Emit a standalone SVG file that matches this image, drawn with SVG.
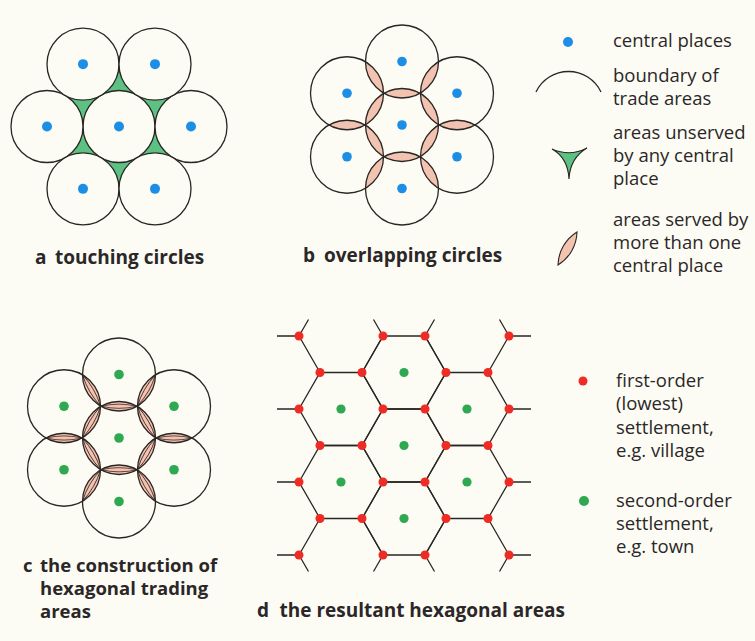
<svg xmlns="http://www.w3.org/2000/svg" xmlns:xlink="http://www.w3.org/1999/xlink" width="755" height="641" viewBox="0 0 755 641">
<style>
.bg{fill:#fcfcf4}
.ring{fill:none;stroke:#2a2623;stroke-width:1.3}
.ringf{fill:#fcfcf4;stroke:#2a2623;stroke-width:1.3}
.blue{fill:#1c8ee6}
.gdot{fill:#2fa852}
.rdot{fill:#ee2b25}
.pink{fill:#f3c3b2;stroke:none}
.inner{fill:none;stroke:#3a2a24;stroke-width:0.8}
.edge{fill:none;stroke:#2a2623;stroke-width:1.3}
.green{fill:#5ec184}
.lt{font-family:"Open Sans","Noto Sans",sans-serif;font-size:18.5px;fill:#2b2728}
.lb{font-family:"Open Sans","Noto Sans",sans-serif;font-size:19px;font-weight:700;fill:#2b2728}
.lc{font-size:18.5px}
</style>
<defs>
<path id="lens" d="M0,-18 A36.5,36.5 0 0 1 0,18 A36.5,36.5 0 0 1 0,-18 Z"/>
<path id="lensIn" d="M0,-18 A80,80 0 0 1 0,18 M0,-18 A80,80 0 0 0 0,18"/>
<path id="hex" d="M-42,0 L-21,-36.5 L21,-36.5 L42,0 L21,36.5 L-21,36.5 Z"/>
</defs>
<rect class="bg" x="0" y="0" width="755" height="641"/>

<g id="panel-a" transform="translate(119,126.5)">
<polygon class="green" points="-72,0 -36,-62.35 36,-62.35 72,0 36,62.35 -36,62.35"/>
<circle class="ringf" cx="0" cy="0" r="36"/>
<circle class="ringf" cx="-72" cy="0" r="36"/>
<circle class="ringf" cx="72" cy="0" r="36"/>
<circle class="ringf" cx="-36" cy="-62.35" r="36"/>
<circle class="ringf" cx="36" cy="-62.35" r="36"/>
<circle class="ringf" cx="-36" cy="62.35" r="36"/>
<circle class="ringf" cx="36" cy="62.35" r="36"/>
<circle class="blue" cx="0" cy="0" r="5"/>
<circle class="blue" cx="-72" cy="0" r="5"/>
<circle class="blue" cx="72" cy="0" r="5"/>
<circle class="blue" cx="-36" cy="-62.35" r="5"/>
<circle class="blue" cx="36" cy="-62.35" r="5"/>
<circle class="blue" cx="-36" cy="62.35" r="5"/>
<circle class="blue" cx="36" cy="62.35" r="5"/>
</g>

<g id="panel-b" transform="translate(402,125)">
<g class="pink">
<use xlink:href="#lens" transform="translate(0,-31.75) rotate(90)"/>
<use xlink:href="#lens" transform="translate(0,31.75) rotate(90)"/>
<use xlink:href="#lens" transform="translate(-27.5,-15.875) rotate(30)"/>
<use xlink:href="#lens" transform="translate(27.5,15.875) rotate(30)"/>
<use xlink:href="#lens" transform="translate(27.5,-15.875) rotate(-30)"/>
<use xlink:href="#lens" transform="translate(-27.5,15.875) rotate(-30)"/>
<use xlink:href="#lens" transform="translate(-27.5,-47.625) rotate(-30)"/>
<use xlink:href="#lens" transform="translate(27.5,-47.625) rotate(30)"/>
<use xlink:href="#lens" transform="translate(-55,0) rotate(90)"/>
<use xlink:href="#lens" transform="translate(55,0) rotate(90)"/>
<use xlink:href="#lens" transform="translate(-27.5,47.625) rotate(30)"/>
<use xlink:href="#lens" transform="translate(27.5,47.625) rotate(-30)"/>
</g>
<circle class="ring" cx="0" cy="0" r="36.5"/>
<circle class="ring" cx="0" cy="-63.5" r="36.5"/>
<circle class="ring" cx="0" cy="63.5" r="36.5"/>
<circle class="ring" cx="-55" cy="-31.75" r="36.5"/>
<circle class="ring" cx="55" cy="-31.75" r="36.5"/>
<circle class="ring" cx="-55" cy="31.75" r="36.5"/>
<circle class="ring" cx="55" cy="31.75" r="36.5"/>
<circle class="blue" cx="0" cy="0" r="4.8"/>
<circle class="blue" cx="0" cy="-63.5" r="4.8"/>
<circle class="blue" cx="0" cy="63.5" r="4.8"/>
<circle class="blue" cx="-55" cy="-31.75" r="4.8"/>
<circle class="blue" cx="55" cy="-31.75" r="4.8"/>
<circle class="blue" cx="-55" cy="31.75" r="4.8"/>
<circle class="blue" cx="55" cy="31.75" r="4.8"/>
</g>

<g id="panel-c" transform="translate(119,438)">
<g class="pink">
<use xlink:href="#lens" transform="translate(0,-31.75) rotate(90)"/>
<use xlink:href="#lens" transform="translate(0,31.75) rotate(90)"/>
<use xlink:href="#lens" transform="translate(-27.5,-15.875) rotate(30)"/>
<use xlink:href="#lens" transform="translate(27.5,15.875) rotate(30)"/>
<use xlink:href="#lens" transform="translate(27.5,-15.875) rotate(-30)"/>
<use xlink:href="#lens" transform="translate(-27.5,15.875) rotate(-30)"/>
<use xlink:href="#lens" transform="translate(-27.5,-47.625) rotate(-30)"/>
<use xlink:href="#lens" transform="translate(27.5,-47.625) rotate(30)"/>
<use xlink:href="#lens" transform="translate(-55,0) rotate(90)"/>
<use xlink:href="#lens" transform="translate(55,0) rotate(90)"/>
<use xlink:href="#lens" transform="translate(-27.5,47.625) rotate(30)"/>
<use xlink:href="#lens" transform="translate(27.5,47.625) rotate(-30)"/>
</g>
<g class="inner">
<use xlink:href="#lensIn" transform="translate(0,-31.75) rotate(90)"/>
<use xlink:href="#lensIn" transform="translate(0,31.75) rotate(90)"/>
<use xlink:href="#lensIn" transform="translate(-27.5,-15.875) rotate(30)"/>
<use xlink:href="#lensIn" transform="translate(27.5,15.875) rotate(30)"/>
<use xlink:href="#lensIn" transform="translate(27.5,-15.875) rotate(-30)"/>
<use xlink:href="#lensIn" transform="translate(-27.5,15.875) rotate(-30)"/>
<use xlink:href="#lensIn" transform="translate(-27.5,-47.625) rotate(-30)"/>
<use xlink:href="#lensIn" transform="translate(27.5,-47.625) rotate(30)"/>
<use xlink:href="#lensIn" transform="translate(-55,0) rotate(90)"/>
<use xlink:href="#lensIn" transform="translate(55,0) rotate(90)"/>
<use xlink:href="#lensIn" transform="translate(-27.5,47.625) rotate(30)"/>
<use xlink:href="#lensIn" transform="translate(27.5,47.625) rotate(-30)"/>
</g>
<circle class="ring" cx="0" cy="0" r="36.5"/>
<circle class="ring" cx="0" cy="-63.5" r="36.5"/>
<circle class="ring" cx="0" cy="63.5" r="36.5"/>
<circle class="ring" cx="-55" cy="-31.75" r="36.5"/>
<circle class="ring" cx="55" cy="-31.75" r="36.5"/>
<circle class="ring" cx="-55" cy="31.75" r="36.5"/>
<circle class="ring" cx="55" cy="31.75" r="36.5"/>
<circle class="gdot" cx="0" cy="0" r="4.8"/>
<circle class="gdot" cx="0" cy="-63.5" r="4.8"/>
<circle class="gdot" cx="0" cy="63.5" r="4.8"/>
<circle class="gdot" cx="-55" cy="-31.75" r="4.8"/>
<circle class="gdot" cx="55" cy="-31.75" r="4.8"/>
<circle class="gdot" cx="-55" cy="31.75" r="4.8"/>
<circle class="gdot" cx="55" cy="31.75" r="4.8"/>
</g>

<g id="panel-d">
<g id="connectors" class="edge">
<use xlink:href="#hex" x="404" y="372.5"/>
<use xlink:href="#hex" x="404" y="445.5"/>
<use xlink:href="#hex" x="404" y="518.5"/>
<use xlink:href="#hex" x="341" y="409"/>
<use xlink:href="#hex" x="341" y="482"/>
<use xlink:href="#hex" x="467" y="409"/>
<use xlink:href="#hex" x="467" y="482"/>
<path d="M299,336 L320,372.5 M383,336 L362,372.5 M425,336 L446,372.5 M509,336 L488,372.5
M320,518.5 L299,555 M362,518.5 L383,555 M446,518.5 L425,555 M488,518.5 L509,555
M277,336 H299 M277,409 H299 M277,482 H299 M277,555 H299
M509,336 H531 M509,409 H531 M509,482 H531 M509,555 H531
M299,336 L308.5,319.5 M383,336 L373.5,319.5 M425,336 L434.5,319.5 M509,336 L499.5,319.5
M299,555 L308.5,571.5 M383,555 L373.5,571.5 M425,555 L434.5,571.5 M509,555 L499.5,571.5"/>
</g>
<g id="second-order" class="gdot">
<circle cx="404" cy="372.5" r="4.6"/>
<circle cx="341" cy="409" r="4.6"/>
<circle cx="467" cy="409" r="4.6"/>
<circle cx="404" cy="445.5" r="4.6"/>
<circle cx="341" cy="482" r="4.6"/>
<circle cx="467" cy="482" r="4.6"/>
<circle cx="404" cy="518.5" r="4.6"/>
</g>
<g id="first-order" class="rdot">
<circle cx="299" cy="336" r="4.5"/><circle cx="383" cy="336" r="4.5"/><circle cx="425" cy="336" r="4.5"/><circle cx="509" cy="336" r="4.5"/>
<circle cx="320" cy="372.5" r="4.5"/><circle cx="362" cy="372.5" r="4.5"/><circle cx="446" cy="372.5" r="4.5"/><circle cx="488" cy="372.5" r="4.5"/>
<circle cx="299" cy="409" r="4.5"/><circle cx="383" cy="409" r="4.5"/><circle cx="425" cy="409" r="4.5"/><circle cx="509" cy="409" r="4.5"/>
<circle cx="320" cy="445.5" r="4.5"/><circle cx="362" cy="445.5" r="4.5"/><circle cx="446" cy="445.5" r="4.5"/><circle cx="488" cy="445.5" r="4.5"/>
<circle cx="299" cy="482" r="4.5"/><circle cx="383" cy="482" r="4.5"/><circle cx="425" cy="482" r="4.5"/><circle cx="509" cy="482" r="4.5"/>
<circle cx="320" cy="518.5" r="4.5"/><circle cx="362" cy="518.5" r="4.5"/><circle cx="446" cy="518.5" r="4.5"/><circle cx="488" cy="518.5" r="4.5"/>
<circle cx="299" cy="555" r="4.5"/><circle cx="383" cy="555" r="4.5"/><circle cx="425" cy="555" r="4.5"/><circle cx="509" cy="555" r="4.5"/>
</g>
</g>

<g id="labels">
<text class="lb" y="264"><tspan x="35">a</tspan><tspan x="55">touching circles</tspan></text>
<text class="lb" y="262"><tspan x="303">b</tspan><tspan x="324">overlapping circles</tspan></text>
<text class="lb lc" y="572"><tspan x="23">c</tspan><tspan x="40">the construction of</tspan></text>
<text class="lb lc" x="40" y="595">hexagonal trading</text>
<text class="lb lc" x="40" y="618">areas</text>
<text class="lb" y="617"><tspan x="257">d</tspan><tspan x="279.5">the resultant hexagonal areas</tspan></text>
</g>

<g id="legend-central">
<circle class="blue" cx="568" cy="42" r="5"/>
<text class="lt" x="613" y="47">central places</text>
</g>
<g id="legend-boundary">
<path class="edge" d="M536,92 A36,36 0 0 1 601,92"/>
<text class="lt" x="613" y="82">boundary of</text>
<text class="lt" x="613" y="105">trade areas</text>
</g>
<g id="legend-unserved">
<path class="green" stroke="#2a2623" stroke-width="1.1" d="M552,149 Q570,157 587,148 Q570,158 569,179 Q568,158 552,149 Z"/>
<text class="lt" x="613" y="139">areas unserved</text>
<text class="lt" x="613" y="162">by any central</text>
<text class="lt" x="613" y="185">place</text>
</g>
<g id="legend-served">
<path fill="#f3c3b2" stroke="#2a2623" stroke-width="1.1" d="M577,232 A40,40 0 0 1 558,265 A40,40 0 0 1 577,232 Z"/>
<text class="lt" x="613" y="226">areas served by</text>
<text class="lt" x="613" y="249">more than one</text>
<text class="lt" x="613" y="272">central place</text>
</g>
<g id="legend-first">
<circle class="rdot" cx="583" cy="381" r="4.5"/>
<text class="lt" x="616" y="387">first-order</text>
<text class="lt" x="616" y="410">(lowest)</text>
<text class="lt" x="616" y="434">settlement,</text>
<text class="lt" x="616" y="457">e.g. village</text>
</g>
<g id="legend-second">
<circle class="gdot" cx="584" cy="501" r="5"/>
<text class="lt" x="616" y="507">second-order</text>
<text class="lt" x="616" y="530">settlement,</text>
<text class="lt" x="616" y="553">e.g. town</text>
</g>
</svg>
